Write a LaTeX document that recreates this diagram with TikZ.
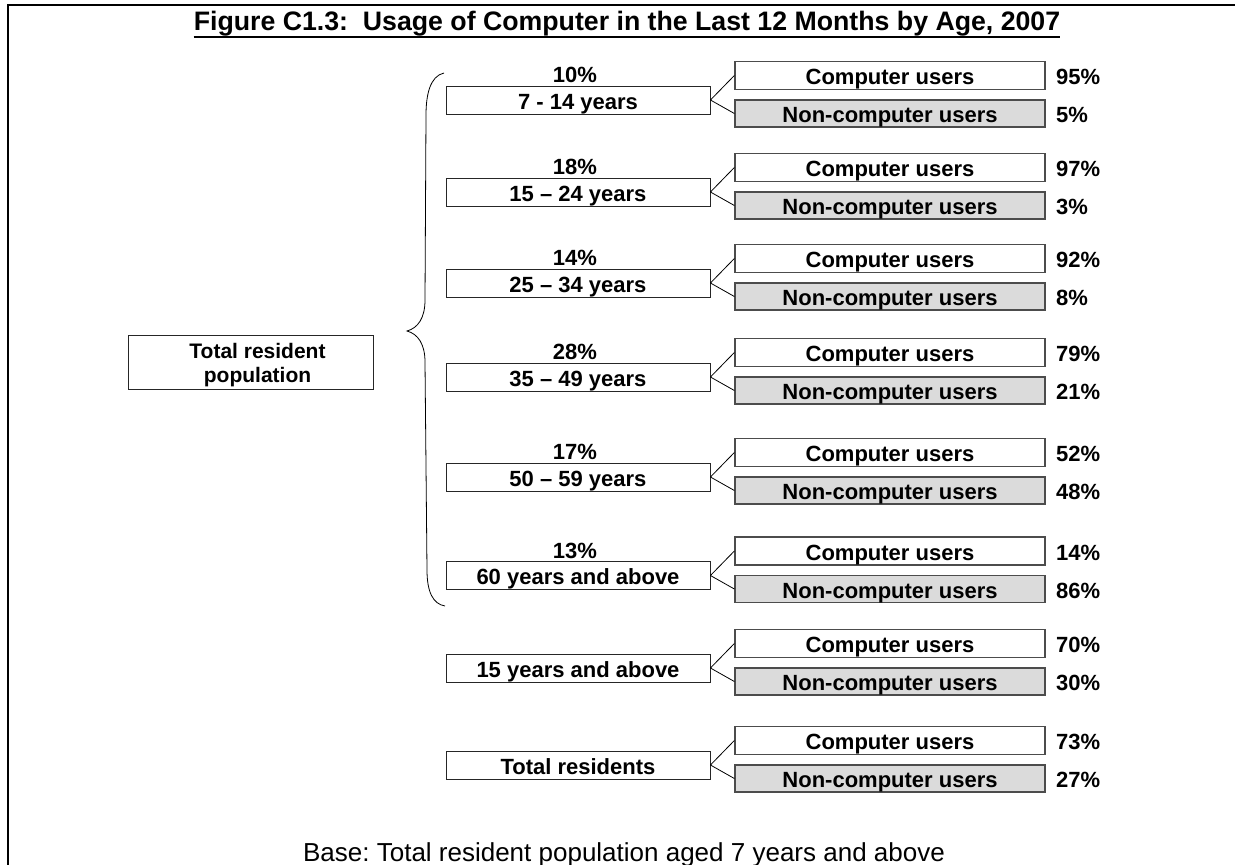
\documentclass[tikz,border=0pt]{standalone}
\usepackage{fontspec}
\setmainfont{Liberation Sans}
\frenchspacing
\begin{document}
\begin{tikzpicture}[x=1pt,y=-1pt,
  bf22/.style={font=\bfseries\fontsize{22}{26}\selectfont, text height=21pt, text depth=3pt},
  agebox/.style={draw=black!85, line width=0.9pt, minimum width=264pt, minimum height=28pt, inner sep=0pt, bf22},
  compbox/.style={draw=black!70, line width=1.3pt, minimum width=310pt, minimum height=28pt, inner sep=0pt, bf22},
  noncompbox/.style={compbox, fill=black!14, minimum height=27pt},
  pct/.style={anchor=west, inner sep=0pt, bf22},
  toplbl/.style={inner sep=0pt, font=\bfseries\fontsize{22}{26}\selectfont},
  link/.style={draw=black, line width=0.8pt},
  frameline/.style={draw=black, line width=2.5pt}
]
\useasboundingbox (0,0) rectangle (1235,865);
% frame
\coordinate (f1) at (8,865);
\coordinate (f2) at (8,5);
\coordinate (f3) at (1235,5);
\draw[frameline] (f1) -- (f2) -- (f3);
% title
\node[inner sep=0pt, anchor=base, font=\bfseries\fontsize{26.7}{31}\selectfont] (title) at (627,30)
  {Figure C1.3:\ \ Usage of Computer in the Last 12 Months by Age, 2007};
\draw[line width=2.2pt] ([yshift=-7pt]title.base west) -- ([yshift=-7pt]title.base east);
% root
\node[draw=black!85, line width=0.9pt, minimum width=245pt, minimum height=54pt, inner sep=0pt] (root) at (250.5,362) {};
\node[inner sep=0pt, align=center, font=\bfseries\fontsize{21}{23.5}\selectfont] (roottext) at (257.5,365)
  {Total resident\\population};
% brace
\draw[line width=0.8pt] (444,73) .. controls (430,76) and (426,95) .. (426,115)
  -- (425,300) .. controls (425,318) and (418,328) .. (407,331)
  .. controls (418,334) and (425,344) .. (425,362)
  -- (427,570) .. controls (427,592) and (433,604) .. (445,606);
% rows
\foreach \i/\yy/\lab/\pa/\pc/\pn in {
  1/100/{7 - 14 years}/{10\%}/{95\%}/{5\%},
  2/192/{15 -- 24 years}/{18\%}/{97\%}/{3\%},
  3/283/{25 -- 34 years}/{14\%}/{92\%}/{8\%},
  4/377/{35 -- 49 years}/{28\%}/{79\%}/{21\%},
  5/477/{50 -- 59 years}/{17\%}/{52\%}/{48\%},
  6/575.5/{60 years and above}/{13\%}/{14\%}/{86\%},
  7/668/{15 years and above}/{}/{70\%}/{30\%},
  8/765/{Total residents}/{}/{73\%}/{27\%}}{
  \node[agebox] (a\i) at (578,\yy) {\lab};
  \node[toplbl] (p\i) at (575,\yy-25) {\pa};
  \node[compbox] (c\i) at (890,\yy-24.5) {Computer users};
  \node[noncompbox] (n\i) at (890,\yy+13.5) {Non-computer users};
  \node[pct] (pc\i) at (1056,\yy-24.5) {\pc};
  \node[pct] (pn\i) at (1056,\yy+13.5) {\pn};
  \draw[link] (a\i.east) -- (c\i.west);
  \draw[link] (a\i.east) -- (n\i.west);
}
% base
\node[inner sep=0pt, anchor=base, font=\fontsize{26}{30}\selectfont] (base) at (624,861)
  {Base: Total resident population aged 7 years and above};
\end{tikzpicture}
\end{document}
